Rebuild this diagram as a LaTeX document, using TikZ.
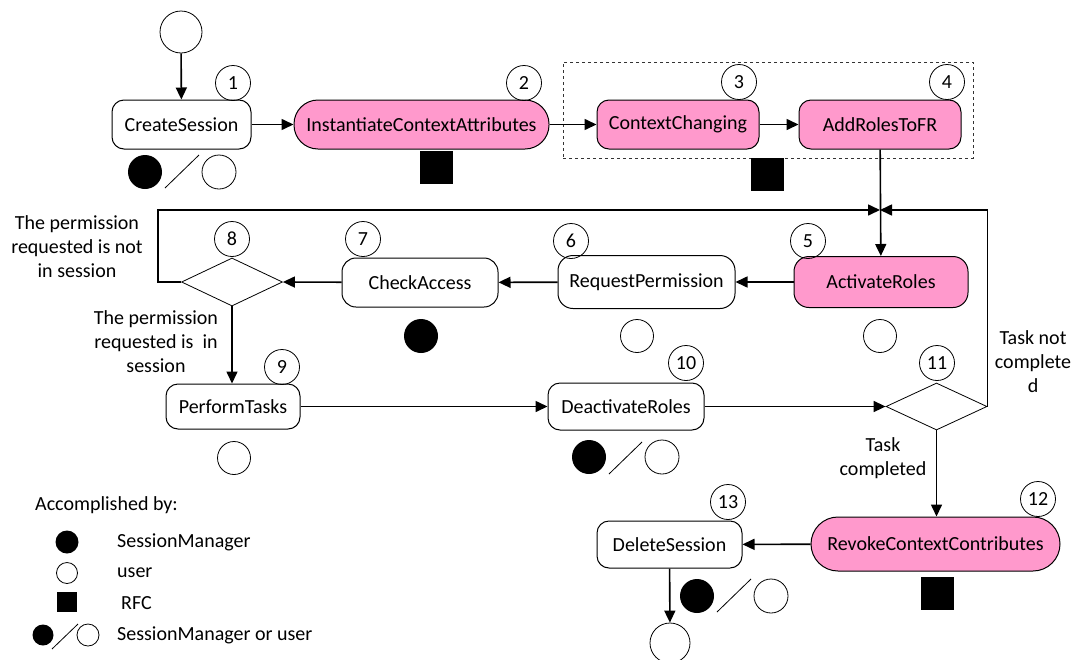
\documentclass[tikz,border=0pt]{standalone}
\usepackage{fontspec}
\setmainfont{Carlito}
\usetikzlibrary{arrows.meta,shapes.geometric}
\definecolor{pinkfill}{RGB}{255,153,204}
\begin{document}
\begin{tikzpicture}[x=1pt,y=-1pt,
  font=\fontsize{20}{24}\selectfont,
  box/.style={draw=black, line width=1pt, rounded corners=12pt, inner sep=0pt, align=center},
  pinkbox/.style={box, fill=pinkfill},
  pill/.style={pinkbox, rounded corners=26pt},
  dec/.style={draw=black, line width=0.8pt, shape=diamond, inner sep=0pt, aspect=2},
  num/.style={draw=black, line width=0.8pt, circle, minimum size=35pt, inner sep=0pt},
  term/.style={draw=black, line width=0.8pt, circle, inner sep=0pt},
  blk/.style={fill=black, circle, inner sep=0pt},
  wht/.style={draw=black, line width=0.8pt, circle, inner sep=0pt},
  sq/.style={fill=black, inner sep=0pt},
  slash/.style={line width=0.8pt},
  arr/.style={line width=1.6pt, -{Triangle[length=12pt,width=11pt]}},
  lbl/.style={align=center, inner sep=0pt},
  leg/.style={anchor=west, inner sep=0pt}
]
\useasboundingbox (0,0) rectangle (1076,659);

% dashed group
\node[draw=black!80, dashed, line width=0.7pt, minimum width=410pt, minimum height=96pt, inner sep=0pt] (grp) at (768,110) {};

% activities
\node[term, minimum size=42pt] (start) at (181,32) {};
\node[box, minimum width=139pt, minimum height=49pt] (cs) at (181.5,124.5) {CreateSession};
\node[pill, rounded corners=24pt, minimum width=255pt, minimum height=49pt] (ica) at (421.5,124.5) {InstantiateContextAttributes};
\node[pinkbox, minimum width=162pt, minimum height=49pt] (cc) at (678,124.5) {ContextChanging};
\node[pinkbox, minimum width=162pt, minimum height=49pt] (ar) at (880,124.5) {AddRolesToFR};
\node[pinkbox, rounded corners=15pt, minimum width=174pt, minimum height=51pt] (act) at (881,282) {ActivateRoles};
\node[box, rounded corners=15pt, minimum width=177pt, minimum height=53pt] (rp) at (646.5,282) {RequestPermission};
\node[box, rounded corners=14pt, minimum width=156pt, minimum height=49pt] (ca) at (420,282.5) {CheckAccess};
\node[dec, minimum width=101pt, minimum height=48pt] (d8) at (232,282) {};
\node[box, minimum width=134pt, minimum height=45pt] (pt) at (233,406.5) {PerformTasks};
\node[box, minimum width=156pt, minimum height=47pt] (dr) at (626,406.5) {DeactivateRoles};
\node[dec, minimum width=101pt, minimum height=47pt] (d11) at (936.5,406.5) {};
\node[pill, rounded corners=27pt, minimum width=249pt, minimum height=54pt] (rcc) at (935.5,544) {RevokeContextContributes};
\node[box, minimum width=145pt, minimum height=47pt] (ds) at (669.5,544.5) {DeleteSession};
\node[term, minimum size=40pt] (end) at (670,643) {};

% numbers
\node[num] (n1) at (233,83) {1};
\node[num] (n2) at (524,83) {2};
\node[num] (n3) at (739,82) {3};
\node[num] (n4) at (947,82) {4};
\node[num] (n5) at (808,241) {5};
\node[num] (n6) at (571,241) {6};
\node[num] (n7) at (363,239) {7};
\node[num] (n8) at (232,239) {8};
\node[num] (n9) at (282,367) {9};
\node[num] (n10) at (686,363) {10};
\node[num] (n11) at (937,363) {11};
\node[num] (n12) at (1038,499) {12};
\node[num] (n13) at (728,502) {13};

% performer markers
\node[blk, minimum size=34pt] (m1a) at (145,172) {};
\draw[slash] (165,188) -- (199,155);
\node[wht, minimum size=34pt] (m1b) at (219,172) {};
\node[sq, minimum size=33pt] (m2) at (436,167) {};
\node[sq, minimum size=33pt] (m34) at (767.5,174.5) {};
\node[blk, minimum size=34pt] (m7) at (421,336) {};
\node[wht, minimum size=33pt] (m6) at (637,336) {};
\node[wht, minimum size=33pt] (m5) at (880,336) {};
\node[wht, minimum size=33pt] (m9) at (234,458) {};
\node[blk, minimum size=34pt] (m10a) at (589,457) {};
\draw[slash] (609,474) -- (642,442);
\node[wht, minimum size=34pt] (m10b) at (662,457) {};
\node[sq, minimum size=33pt] (m12) at (937.5,593) {};
\node[blk, minimum size=34pt] (m13a) at (697,596) {};
\draw[slash] (717,612) -- (751,579);
\node[wht, minimum size=34pt] (m13b) at (771,596) {};

% connectors
\coordinate (j) at (880,210);
\draw[arr] (start) -- (cs);
\draw[arr] (cs) -- (ica);
\draw[arr] (ica) -- (cc);
\draw[arr] (cc) -- (ar);
\draw[arr] (ar) -- (act);
\draw[arr] (d8.west) -- ++(-23,0) |- (j);
\draw[arr] (d11.east) |- (j);
\draw[arr] (act) -- (rp);
\draw[arr] (rp) -- (ca);
\draw[arr] (ca) -- (d8.east);
\draw[arr] (d8.south) -- (d8.south |- pt.north);
\draw[arr] (pt) -- (dr);
\draw[arr] (dr) -- (d11.west);
\draw[arr] (d11.south) -- (d11.south |- rcc.north);
\draw[arr] (rcc) -- (ds);
\draw[arr] (ds) -- (end);

% guard labels
\node[lbl] (g1) at (77,247) {The permission\\requested is not\\in session};
\node[lbl] (g2) at (156,342) {The permission\\requested is\ \ in\\session};
\node[lbl] (g3) at (1033,362) {Task not\\complete\\d};
\node[lbl] (g4) at (883,458) {Task\\completed};

% legend
\node[leg] (lt) at (35,505) {Accomplished by:};
\node[blk, minimum size=23pt] (l1) at (67,542) {};
\node[leg] (l1t) at (117,542) {SessionManager};
\node[wht, minimum size=21pt] (l2) at (67,573) {};
\node[leg] (l2t) at (117,573) {user};
\node[sq, minimum size=20pt] (l3) at (67,602) {};
\node[leg] (l3t) at (121,603) {RFC};
\node[blk, minimum size=21pt] (l4a) at (43,635) {};
\draw[slash] (52,649) -- (78,624);
\node[wht, minimum size=22pt] (l4b) at (88,635) {};
\node[leg] (l4t) at (117,635) {SessionManager or user};
\end{tikzpicture}
\end{document}
